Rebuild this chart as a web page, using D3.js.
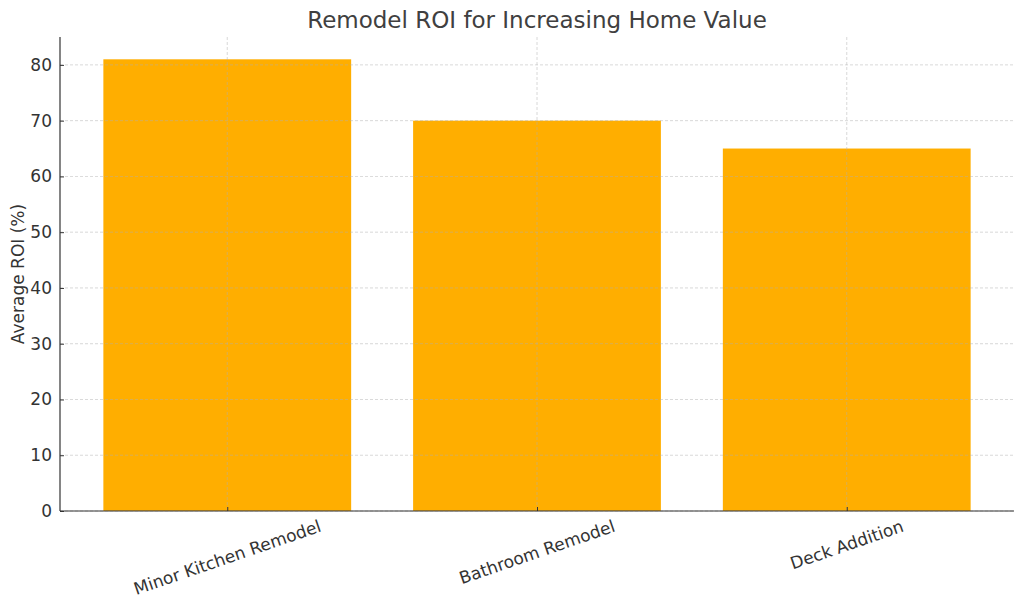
<!DOCTYPE html>
<html>
<head>
<meta charset="utf-8">
<script src="https://cdn.jsdelivr.net/npm/d3@7"></script>
<style>
    body { margin: 0; background: #fff; }
    svg text { font-family: "DejaVu Sans", sans-serif; }
</style>
</head>
<body>
<div id="chart"></div>
<script>
// Chart data
const categories = ['Minor Kitchen Remodel', 'Bathroom Remodel', 'Deck Addition'];
const roiValues = [81, 70, 65];
const yTicks = [0, 10, 20, 30, 40, 50, 60, 70, 80];

const width = 1024, height = 611;
const margin = {top: 37, right: 10, bottom: 100, left: 60};
const textColor = '#333333';
const fontSize = 17;
const labelAngle = 19;

const svg = d3.select('#chart').append('svg')
    .attr('width', width)
    .attr('height', height);

// Positions built the matplotlib way: bar width 0.8, 5% side margins
const xScale = d3.scaleLinear()
    .domain([-0.54, categories.length - 1 + 0.54])
    .range([margin.left, width - margin.right]);

const yScale = d3.scaleLinear()
    .domain([0, 85])
    .range([height - margin.bottom, margin.top]);

const barWidth = xScale(0.8) - xScale(0);

// Bars
svg.selectAll('rect.bar')
    .data(roiValues)
    .enter()
    .append('rect')
    .attr('class', 'bar')
    .attr('x', (d, i) => xScale(i - 0.4))
    .attr('y', d => yScale(d))
    .attr('width', barWidth)
    .attr('height', d => yScale(0) - yScale(d))
    .style('fill', '#ffae00');

// Grid lines sit on top of the bars, very faint
svg.selectAll('line.ygrid')
    .data(yTicks)
    .enter()
    .append('line')
    .attr('class', 'ygrid')
    .attr('x1', margin.left)
    .attr('x2', width - margin.right)
    .attr('y1', d => yScale(d))
    .attr('y2', d => yScale(d))
    .style('stroke', '#b0b0b0')
    .style('stroke-width', 0.8)
    .style('stroke-dasharray', '3,2')
    .style('opacity', 0.6);

svg.selectAll('line.xgrid')
    .data(categories)
    .enter()
    .append('line')
    .attr('class', 'xgrid')
    .attr('x1', (d, i) => xScale(i))
    .attr('x2', (d, i) => xScale(i))
    .attr('y1', margin.top)
    .attr('y2', height - margin.bottom)
    .style('stroke', '#b0b0b0')
    .style('stroke-width', 0.8)
    .style('stroke-dasharray', '3,2')
    .style('opacity', 0.6);

// Y axis (ticks point inward)
const yAxis = d3.axisLeft(yScale)
    .tickValues(yTicks)
    .tickSize(-4)
    .tickPadding(8);

const yG = svg.append('g')
    .attr('transform', `translate(${margin.left},0)`)
    .call(yAxis);
yG.select('.domain').attr('d', `M0,${yScale(0)}V${margin.top}`).style('stroke', '#333').style('stroke-width', 1.2);
yG.selectAll('.tick line').style('stroke', '#333');
yG.selectAll('text').style('font-size', fontSize + 'px').style('fill', textColor);

// X axis
const xAxis = d3.axisBottom(xScale)
    .tickValues(d3.range(categories.length))
    .tickSize(-4)
    .tickFormat(() => '');

const xG = svg.append('g')
    .attr('transform', `translate(0,${height - margin.bottom})`)
    .call(xAxis);
xG.select('.domain').attr('d', `M${margin.left},0H${width - margin.right}`).style('stroke', '#333').style('stroke-width', 1.2);
xG.selectAll('.tick line').style('stroke', '#333');

// Rotated category labels: the rotated glyphs are centred on the tick, their top just under the axis
const labelTop = height - margin.bottom + 8;
const rad = labelAngle * Math.PI / 180;
svg.selectAll('text.xlabel')
    .data(categories)
    .enter()
    .append('text')
    .attr('class', 'xlabel')
    .attr('text-anchor', 'middle')
    .attr('dy', '0.37em')
    .style('font-size', fontSize + 'px')
    .style('fill', textColor)
    .text(d => d)
    .attr('transform', function(d, i) {
        const len = this.getComputedTextLength();
        const h = fontSize * 0.76;
        const cy = labelTop + len / 2 * Math.sin(rad) + h / 2 * Math.cos(rad);
        return `translate(${xScale(i)},${cy}) rotate(${-labelAngle})`;
    });

// Y axis label
svg.append('text')
    .attr('transform', `translate(18,${(margin.top + height - margin.bottom) / 2}) rotate(-90)`)
    .attr('text-anchor', 'middle')
    .attr('dy', '0.35em')
    .style('font-size', fontSize + 'px')
    .style('fill', textColor)
    .text('Average ROI (%)');

// Title
svg.append('text')
    .attr('x', (margin.left + width - margin.right) / 2)
    .attr('y', 28)
    .attr('text-anchor', 'middle')
    .style('font-size', '23px')
    .style('fill', '#404040')
    .text('Remodel ROI for Increasing Home Value');
</script>
</body>
</html>
